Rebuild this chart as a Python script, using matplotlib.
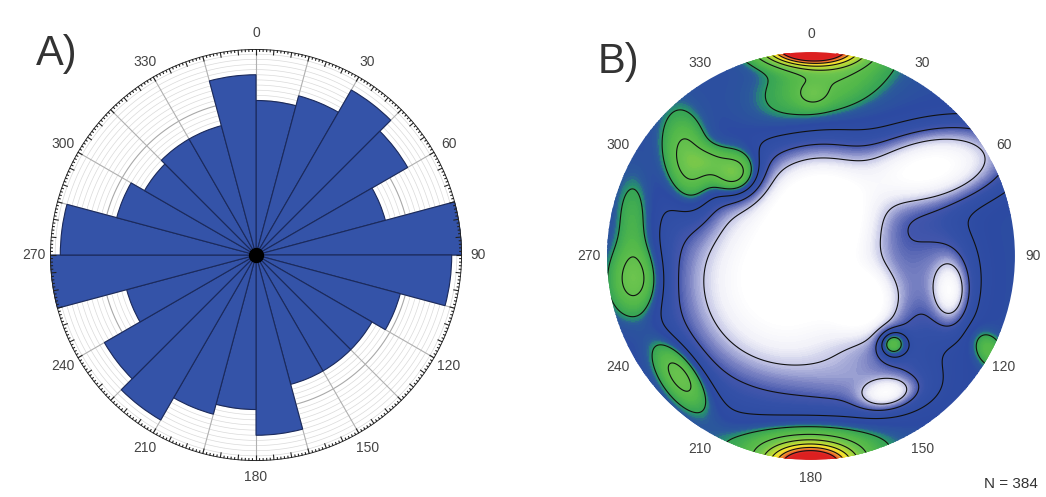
import numpy as np
import matplotlib
matplotlib.use("Agg")
import matplotlib.pyplot as plt
from matplotlib.colors import LinearSegmentedColormap, Normalize
from matplotlib.collections import LineCollection
from matplotlib.patches import Circle

plt.rcParams["font.family"] = ["Liberation Sans", "DejaVu Sans"]

# ---------------- A) rose diagram of strikes (15-degree bins, clockwise from N)
bin_starts = list(range(0, 360, 15))
counts = [30, 32, 37, 34, 26, 40, 38, 29, 26, 26, 26, 35,
          30, 32, 37, 34, 26, 40, 38, 28, 25, 26, 26, 35]
rose_max = 40

label_angles = [0, 30, 60, 90, 120, 150, 180, 210, 240, 270, 300, 330]
label_texts = ["0", "30", "60", "90", "120", "150", "180", "210", "240", "270", "300", "330"]

# ---------------- B) pole density on the net (unit circle, x east / y north)
rim_density = 3.5      # density level away from the sparse centre
sparse_depth = 3.7     # how far the sparse zones drop below it

# pole concentrations: centre, spread along / across the axis, axis angle, weight
high_x = [0.00, 0.08, 0.01, 0.00, -0.03, -0.60, -0.37, -0.50, -0.87, -0.86, -0.64, 0.40, 0.87]
high_y = [1.02, 0.86, 0.79, -1.03, -0.93, 0.45, 0.40, 0.47, 0.18, -0.12, -0.585, -0.43, -0.46]
high_sa = [0.15, 0.24, 0.05, 0.14, 0.26, 0.16, 0.085, 0.06, 0.06, 0.085, 0.14, 0.045, 0.045]
high_sb = [0.055, 0.12, 0.04, 0.065, 0.08, 0.075, 0.08, 0.05, 0.15, 0.12, 0.065, 0.045, 0.065]
high_ang = [0, 25, 0, 0, 0, 101, 0, 0, 0, 0, -55, 0, 30]
high_w = [9.0, 1.5, 0.7, 7.8, 1.8, 2.2, 3.3, 0.9, 1.0, 2.2, 2.4, 2.7, 1.3]

# sparse zones (few poles)
low_x = [-0.12, 0.05, 0.58, 0.25, 0.62, 0.68, 0.30, 0.37]
low_y = [-0.12, 0.22, 0.43, -0.22, -0.10, -0.17, -0.62, -0.67]
low_sa = [0.29, 0.16, 0.22, 0.10, 0.12, 0.05, 0.20, 0.08]
low_sb = [0.29, 0.16, 0.105, 0.10, 0.18, 0.09, 0.10, 0.045]
low_ang = [0, 0, 12, 0, 0, 0, 0, 10]
low_w = [3.0, 3.0, 2.5, 2.5, 0.6, 1.6, 0.5, 1.6]

contour_levels = [1, 2, 3, 4, 5, 6, 7, 8, 9]
n_poles = 384


def kernel_sum(X, Y, xs, ys, sa, sb, ang, w):
    total = np.zeros_like(X)
    for cx, cy, a, b, t, k in zip(xs, ys, sa, sb, ang, w):
        t = np.deg2rad(t)
        dx, dy = X - cx, Y - cy
        along = dx * np.cos(t) + dy * np.sin(t)
        across = -dx * np.sin(t) + dy * np.cos(t)
        total += k * np.exp(-(along ** 2 / (2 * a ** 2) + across ** 2 / (2 * b ** 2)))
    return total


fig = plt.figure(figsize=(10.46, 4.97), dpi=100)
fig.patch.set_facecolor("white")

# ---------------- rose diagram
axA = fig.add_axes([0.0478, 0.0724, 0.3939, 0.829], projection="polar")
axA.set_theta_zero_location("N")
axA.set_theta_direction(-1)
axA.set_ylim(0, rose_max)
axA.axis("off")

circ = np.linspace(0, 2 * np.pi, 721)
for r in range(1, rose_max):
    major = r % 10 == 0
    axA.plot(circ, np.full_like(circ, r), color="#a9a9a9" if major else "#dadada",
             lw=0.8 if major else 0.5, zorder=1)
for a in range(0, 360, 15):
    axA.plot([np.deg2rad(a)] * 2, [0, rose_max], color="#b0b0b0", lw=0.8, zorder=1)

axA.bar(np.deg2rad(bin_starts), counts, width=np.deg2rad(15), align="edge",
        color="#3453a8", edgecolor="#1b2a5c", linewidth=0.8, zorder=3)
axA.plot(0, 0, "o", ms=10, color="black", zorder=4)

axA.plot(circ, np.full_like(circ, rose_max), color="#222222", lw=1.3, zorder=5)
segs = []
for d in range(360):
    L = 1.1 if d % 5 == 0 else 0.55
    t = np.deg2rad(d)
    segs.append([(t, rose_max - L), (t, rose_max)])
axA.add_collection(LineCollection(segs, colors="#222222", linewidths=0.8, zorder=5))

for a, s in zip(label_angles, label_texts):
    axA.text(np.deg2rad(a), 43.2, s, ha="center", va="center", fontsize=10,
             color="#444444", clip_on=False)

fig.text(0.0344, 0.869, "A)", fontsize=30, color="#333333", va="baseline", ha="left")

# ---------------- density net
axB = fig.add_axes([0.5803, 0.0744, 0.390, 0.821])
axB.set_xlim(-1, 1)
axB.set_ylim(-1, 1)
axB.set_aspect("equal")
axB.axis("off")

g = np.linspace(-1, 1, 601)
X, Y = np.meshgrid(g, g)
sparse = kernel_sum(X, Y, low_x, low_y, low_sa, low_sb, low_ang, low_w)
dense = kernel_sum(X, Y, high_x, high_y, high_sa, high_sb, high_ang, high_w)
F = rim_density - sparse_depth * (1 - np.exp(-sparse)) + dense
F = np.clip(F, 0, None)

vmax = 10.0
stops = [(0.0, "#ffffff"), (0.15, "#ffffff"), (0.6, "#f0f0f8"), (1.0, "#c4c6e6"),
         (1.5, "#7d85c4"), (2.0, "#4456ac"), (2.5, "#3350a7"), (3.4, "#2c4aa2"),
         (3.75, "#2b589c"), (3.95, "#269070"), (4.0, "#34a356"), (4.6, "#52b84a"),
         (5.5, "#6cc44e"), (6.0, "#8ccd42"), (7.0, "#c9dd33"), (7.6, "#f3e52c"),
         (8.2, "#f3b032"), (8.8, "#ec6a2a"), (9.2, "#e0302a"), (10.0, "#dc2020")]
cmap = LinearSegmentedColormap.from_list("density", [(v / vmax, c) for v, c in stops])

disk = Circle((0, 0), 1, transform=axB.transData, facecolor="none", edgecolor="none")
axB.add_patch(disk)
cf = axB.contourf(X, Y, F, levels=np.linspace(0, vmax, 201), cmap=cmap,
                  norm=Normalize(0, vmax), extend="max")
cf.set_clip_path(disk)
cl = axB.contour(X, Y, F, levels=contour_levels, colors="#111111", linewidths=0.8)
cl.set_clip_path(disk)

for a, s in zip(label_angles, label_texts):
    t = np.deg2rad(a)
    axB.text(1.09 * np.sin(t), 1.09 * np.cos(t), s, ha="center", va="center",
             fontsize=10, color="#444444", clip_on=False)

fig.text(0.5717, 0.853, "B)", fontsize=30, color="#333333", va="baseline", ha="left")
fig.text(1038 / 1046, 1 - 488 / 497, f"N = {n_poles}", fontsize=11, color="#333333",
         ha="right", va="baseline")

fig.savefig("out.png", dpi=100, facecolor="white")
